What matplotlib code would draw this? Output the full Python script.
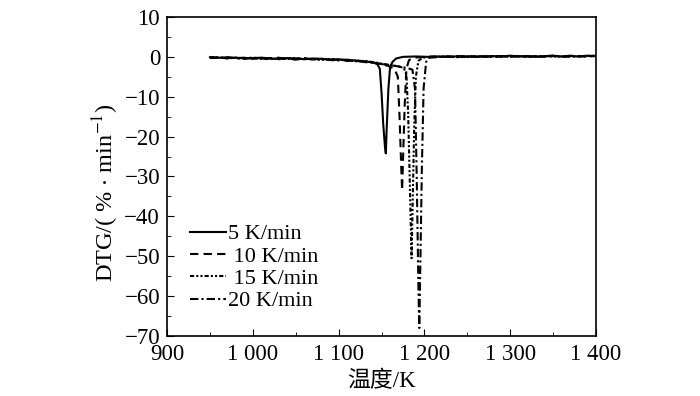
import matplotlib.pyplot as plt
from matplotlib.ticker import MultipleLocator

plt.rcParams['font.family'] = ['Liberation Serif', 'Noto Sans CJK SC']
plt.rcParams['mathtext.fontset'] = 'stix'

# baseline before the peaks (every 10 K)
base_x = [950, 960, 970, 980, 990, 1000, 1010, 1020, 1030, 1040,
          1050, 1060, 1070, 1080, 1090, 1100, 1110, 1120, 1130]
# baseline after the peaks
tail_x = [1220, 1230, 1240, 1250, 1260, 1270, 1280, 1290, 1300, 1310,
          1320, 1330, 1340, 1350, 1360, 1370, 1380, 1390, 1400]

s5_base = [-0.1, -0.2, -0.3, -0.2, -0.4, -0.3, -0.2, -0.4, -0.5, -0.3,
           -0.4, -0.6, -0.4, -0.5, -0.7, -0.6, -0.8, -0.9, -1.1]
s5_peak_x = [1140, 1145, 1148, 1150, 1152, 1154, 1155, 1156, 1158, 1160, 1163, 1167, 1175, 1190, 1205]
s5_peak_y = [-1.4, -1.8, -3.0, -9.0, -17.0, -22.5, -24.2, -18.0, -8.0, -2.5, -1.2, -0.4, 0.0, 0.1, 0.0]
s5_tail = [0.1, 0.0, 0.2, 0.1, 0.0, 0.1, 0.2, 0.1, 0.3, 0.1,
           0.2, 0.0, 0.2, 0.3, 0.1, 0.2, 0.1, 0.3, 0.2]

s10_base = [0.0, -0.3, -0.1, -0.4, -0.2, -0.5, -0.3, -0.4, -0.2, -0.6,
            -0.5, -0.3, -0.7, -0.5, -0.6, -0.8, -1.0, -0.9, -1.2]
s10_peak_x = [1140, 1150, 1158, 1165, 1169, 1171, 1173, 1174, 1175, 1177, 1179, 1182, 1188, 1200, 1210]
s10_peak_y = [-1.4, -1.8, -2.3, -3.0, -5.0, -15.0, -28.0, -33.5, -26.0, -12.0, -3.0, -0.8, -0.2, 0.0, 0.1]
s10_tail = [0.0, 0.1, 0.0, 0.2, 0.1, 0.0, 0.1, 0.2, 0.0, 0.2,
            0.1, 0.1, 0.0, 0.2, 0.1, 0.3, 0.2, 0.1, 0.2]

s15_base = [-0.2, -0.1, -0.4, -0.2, -0.3, -0.2, -0.5, -0.3, -0.6, -0.4,
            -0.3, -0.5, -0.6, -0.8, -0.5, -0.7, -0.9, -1.1, -1.0]
s15_peak_x = [1140, 1150, 1160, 1170, 1176, 1179, 1181, 1183, 1185, 1186, 1188, 1190, 1193, 1198, 1210]
s15_peak_y = [-1.3, -1.7, -2.0, -2.4, -2.8, -4.5, -14.0, -32.0, -50.5, -40.0, -18.0, -5.0, -1.0, -0.2, 0.0]
s15_tail = [0.1, 0.0, -0.1, 0.1, 0.0, 0.2, 0.1, 0.0, 0.1, 0.2,
            0.0, 0.1, 0.2, 0.1, 0.0, 0.2, 0.1, 0.2, 0.3]

s20_base = [-0.3, -0.2, -0.1, -0.3, -0.5, -0.2, -0.4, -0.6, -0.3, -0.5,
            -0.7, -0.4, -0.6, -0.5, -0.8, -0.9, -0.7, -1.0, -1.3]
s20_peak_x = [1140, 1150, 1160, 1170, 1180, 1186, 1189, 1191, 1193, 1194, 1195, 1197, 1199, 1202, 1206]
s20_peak_y = [-1.5, -1.8, -2.1, -2.4, -2.8, -3.2, -8.0, -30.0, -58.0, -68.0, -55.0, -28.0, -8.0, -1.2, -0.2]
s20_tail = [0.0, 0.1, 0.1, 0.0, 0.2, 0.1, 0.0, 0.1, 0.2, 0.1,
            0.0, 0.2, 0.1, 0.3, 0.1, 0.0, 0.2, 0.1, 0.2]

labels = ['5 K/min', ' 10 K/min', ' 15 K/min', '20 K/min']
styles = ['-', (0, (4, 2.5)), (0, (2, 1, 1, 1, 1, 1)), (0, (4, 1.5, 1, 1.5))]

x_ticks = [900, 1000, 1100, 1200, 1300, 1400]
x_tick_labels = ['900', '1 000', '1 100', '1 200', '1 300', '1 400']
y_ticks = [10, 0, -10, -20, -30, -40, -50, -60, -70]

fig = plt.figure(figsize=(7, 3.96), dpi=100)
ax = fig.add_axes([0.2386, 0.1515, 0.6129, 0.8056])

series = [
    (s5_base, s5_peak_x, s5_peak_y, s5_tail),
    (s10_base, s10_peak_x, s10_peak_y, s10_tail),
    (s15_base, s15_peak_x, s15_peak_y, s15_tail),
    (s20_base, s20_peak_x, s20_peak_y, s20_tail),
]
for i in range(0, len(series)):
    b, px, py, t = series[i]
    x_values = base_x + px + tail_x
    y_values = b + py + t
    ax.plot(x_values, y_values, color='black', linewidth=1.5,
            linestyle=styles[i], label=labels[i])

ax.set_xlim(900, 1400)
ax.set_ylim(-70, 10)
ax.set_xticks(x_ticks)
ax.set_xticklabels(x_tick_labels)
ax.set_yticks(y_ticks)
ax.set_yticklabels([str(v).replace('-', '\u2212') for v in y_ticks])
ax.xaxis.set_minor_locator(MultipleLocator(50))
ax.yaxis.set_minor_locator(MultipleLocator(5))
ax.tick_params(which='both', direction='in', labelsize=16.5, top=False, right=False)
ax.tick_params(which='major', length=5)
ax.tick_params(axis='x', which='major', pad=6)
ax.tick_params(axis='y', which='major', pad=5)
ax.tick_params(which='minor', length=3)
for s in ax.spines.values():
    s.set_linewidth(1.2)

ax.set_xlabel('温度/K', fontsize=16.5, labelpad=4)
ax.set_ylabel(r'DTG/( % $\cdot$ min$^{-1}$)', fontsize=17.5)
ax.yaxis.set_label_coords(-0.108, 0.448)

ax.legend(loc='upper left', bbox_to_anchor=(0.272, 0.435), bbox_transform=fig.transFigure,
          frameon=False, fontsize=16, handlelength=1.6, handletextpad=0.1,
          labelspacing=0.08, borderpad=0, borderaxespad=0)

fig.savefig('out.png', dpi=100)
